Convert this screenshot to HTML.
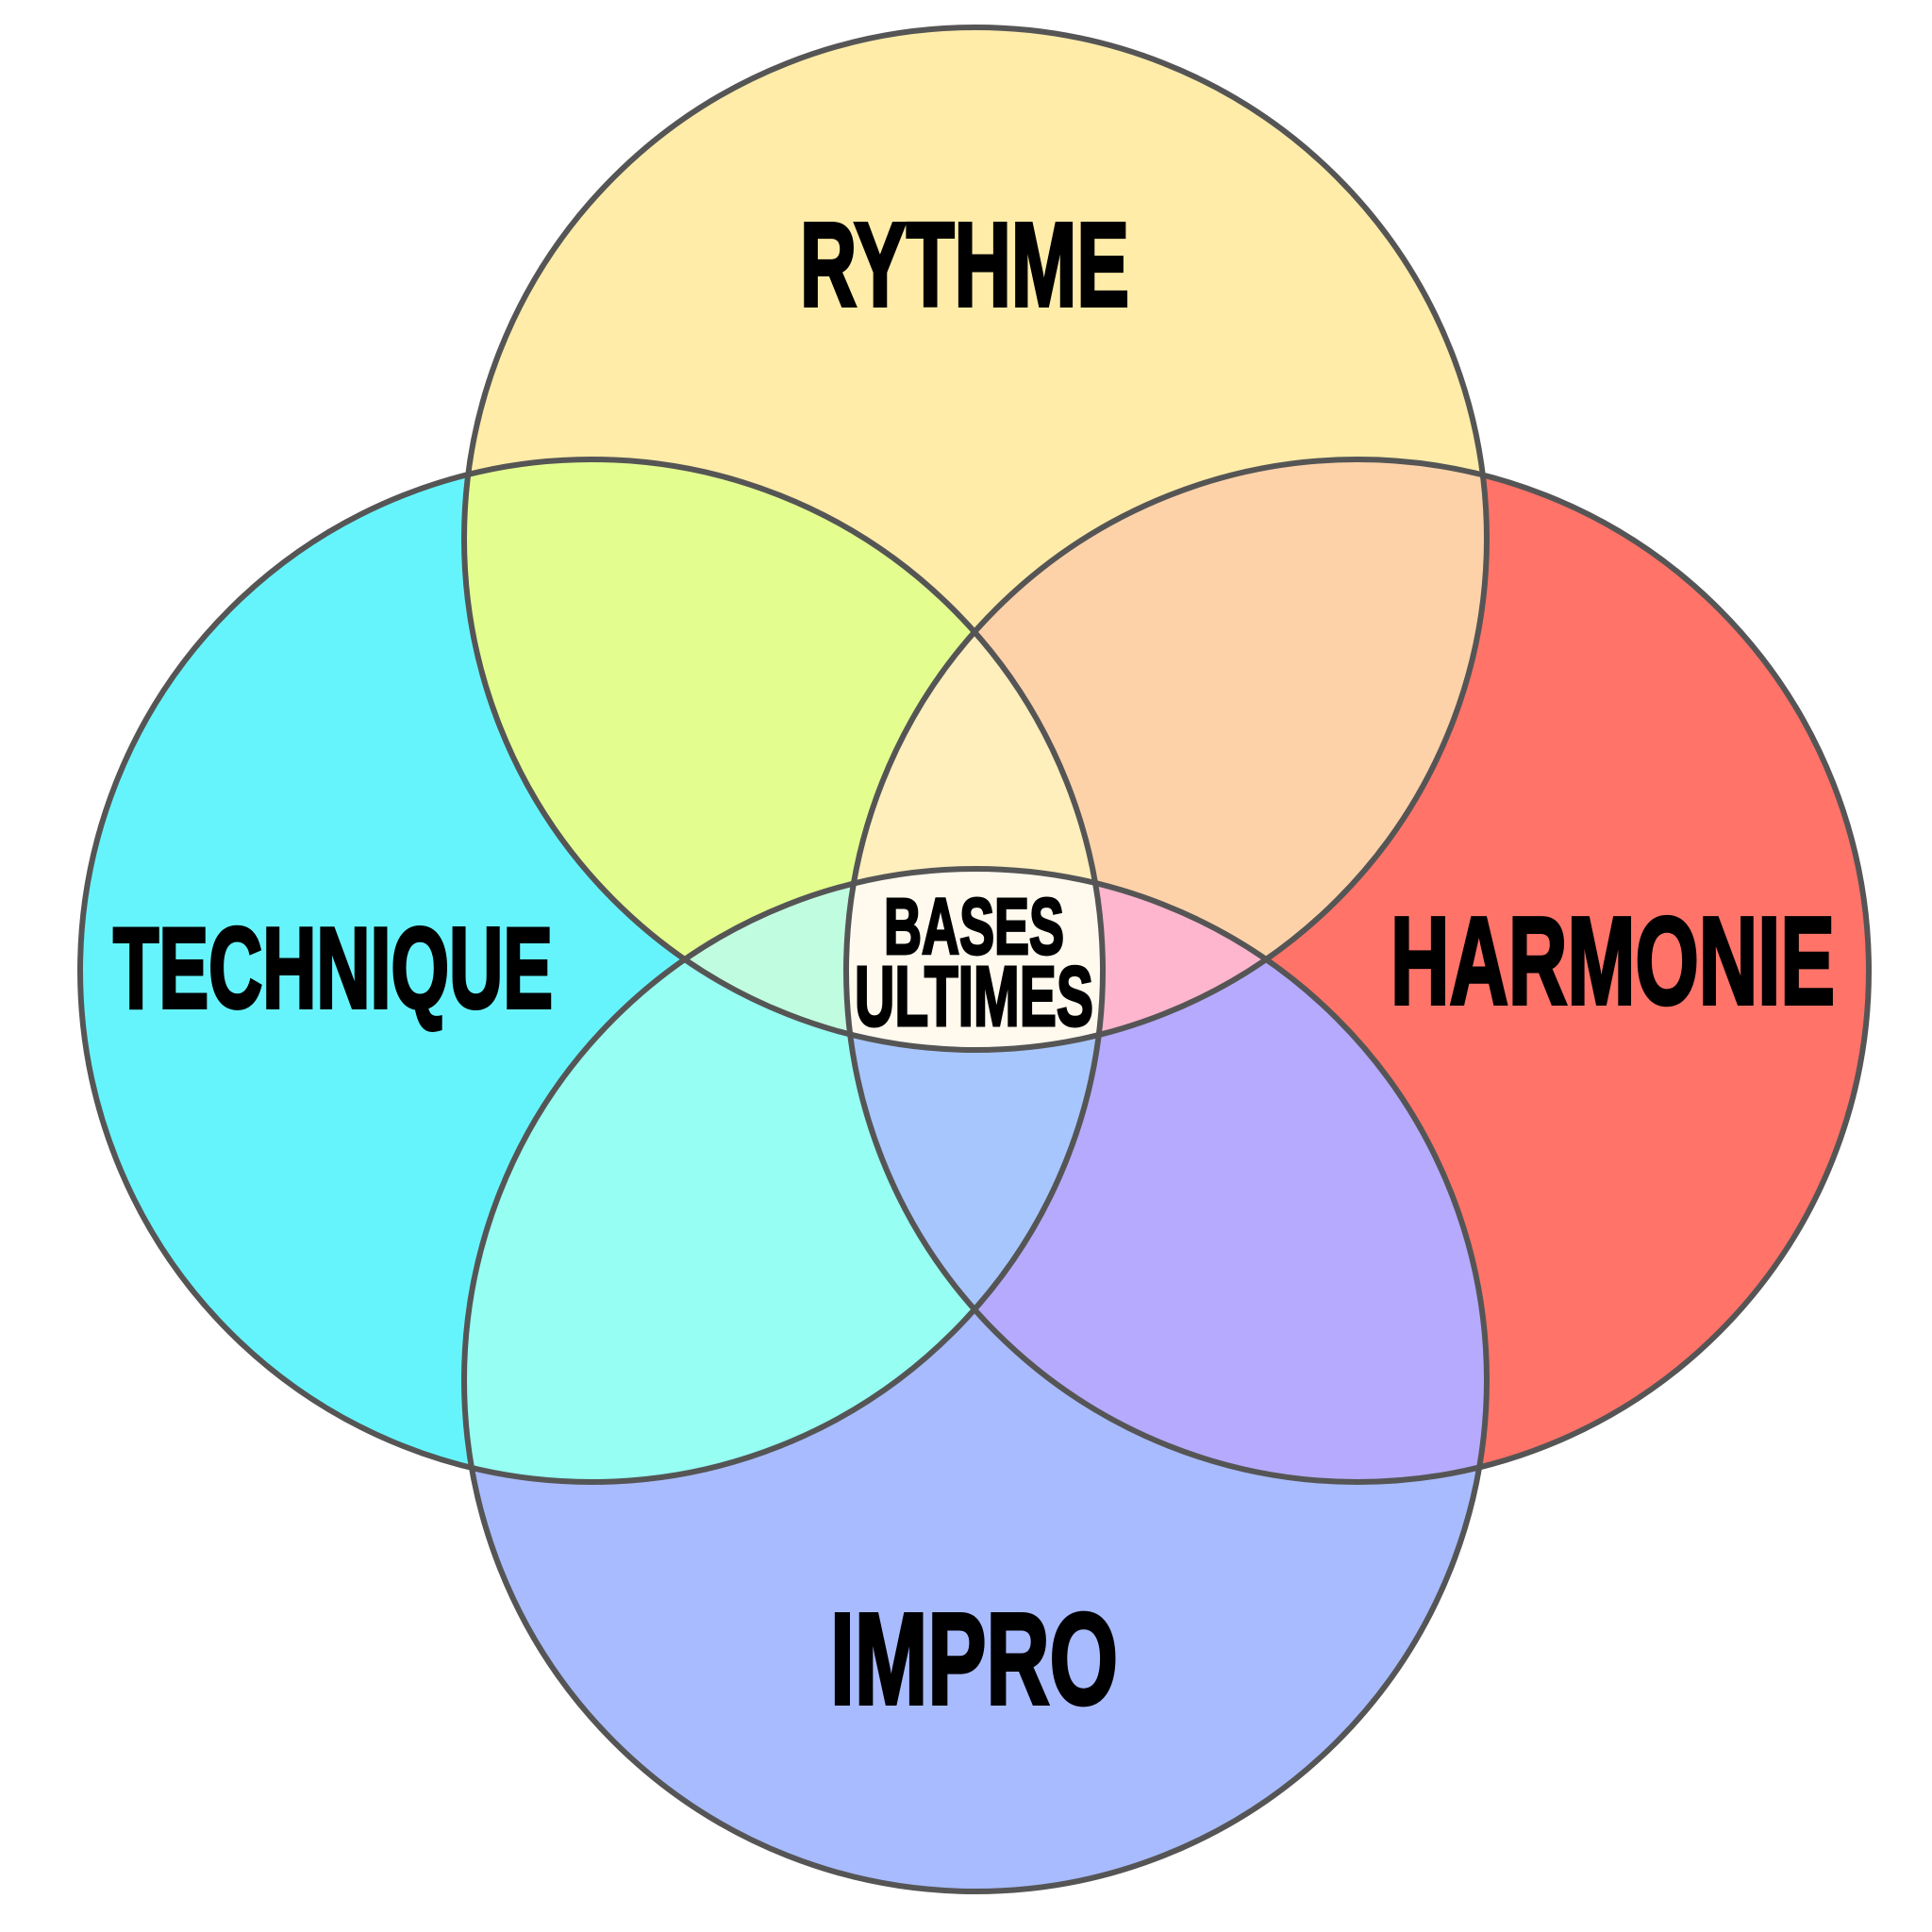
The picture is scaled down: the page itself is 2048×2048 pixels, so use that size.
<!DOCTYPE html>
<html><head><meta charset="utf-8"><style>html,body{margin:0;padding:0;background:#fff}svg{display:block}</style></head>
<body>
<svg width="2048" height="2048" viewBox="0 0 2048 2048" xmlns="http://www.w3.org/2000/svg">
<defs>
<clipPath id="cT"><circle cx="1034" cy="571" r="542"/></clipPath>
<clipPath id="cL"><circle cx="627" cy="1029" r="542"/></clipPath>
<clipPath id="cR"><circle cx="1439" cy="1029" r="542"/></clipPath>
<clipPath id="cB"><circle cx="1034" cy="1463" r="542"/></clipPath>
</defs>
<rect width="2048" height="2048" fill="#fff"/>
<circle cx="1034" cy="571" r="542" fill="#FEECA8"/>
<circle cx="627" cy="1029" r="542" fill="#66F4FC"/>
<circle cx="1439" cy="1029" r="542" fill="#FF7369"/>
<circle cx="1034" cy="1463" r="542" fill="#A8BBFE"/>
<g clip-path="url(#cT)"><circle cx="627" cy="1029" r="542" fill="#E3FE8F"/><circle cx="1439" cy="1029" r="542" fill="#FDD2A9"/></g>
<g clip-path="url(#cB)"><circle cx="627" cy="1029" r="542" fill="#96FEF3"/><circle cx="1439" cy="1029" r="542" fill="#B6AAFE"/></g>
<g clip-path="url(#cT)"><g clip-path="url(#cL)"><circle cx="1439" cy="1029" r="542" fill="#FEEFBD"/><circle cx="1034" cy="1463" r="542" fill="#C0FDE0"/></g></g>
<g clip-path="url(#cB)"><g clip-path="url(#cR)"><circle cx="1034" cy="571" r="542" fill="#FEB5CE"/><circle cx="627" cy="1029" r="542" fill="#A8C6FE"/></g></g>
<g clip-path="url(#cT)"><g clip-path="url(#cL)"><g clip-path="url(#cR)"><circle cx="1034" cy="1463" r="542" fill="#FFF9EE"/></g></g></g>
<g fill="none" stroke="#555" stroke-width="6">
<circle cx="1034" cy="571" r="542"/><circle cx="627" cy="1029" r="542"/><circle cx="1439" cy="1029" r="542"/><circle cx="1034" cy="1463" r="542"/>
</g>
<g font-family="'Liberation Sans Narrow','Liberation Sans',sans-serif" font-weight="bold" fill="#000" stroke="#000" stroke-width="4" stroke-linejoin="miter">
<text x="848" y="324" font-size="126" textLength="349" lengthAdjust="spacingAndGlyphs">RYTHME</text>
<text x="120" y="1068" font-size="122" textLength="466" lengthAdjust="spacingAndGlyphs">TECHNIQUE</text>
<text x="1474" y="1064" font-size="132" textLength="471" lengthAdjust="spacingAndGlyphs">HARMONIE</text>
<text x="880" y="1806" font-size="138" textLength="305" lengthAdjust="spacingAndGlyphs">IMPRO</text>
<text x="937" y="1011" font-size="84" textLength="191" lengthAdjust="spacingAndGlyphs" stroke-width="3">BASES</text>
<text x="906" y="1087" font-size="90" textLength="253" lengthAdjust="spacingAndGlyphs" stroke-width="3">ULTIMES</text>
</g>
</svg>
</body></html>
